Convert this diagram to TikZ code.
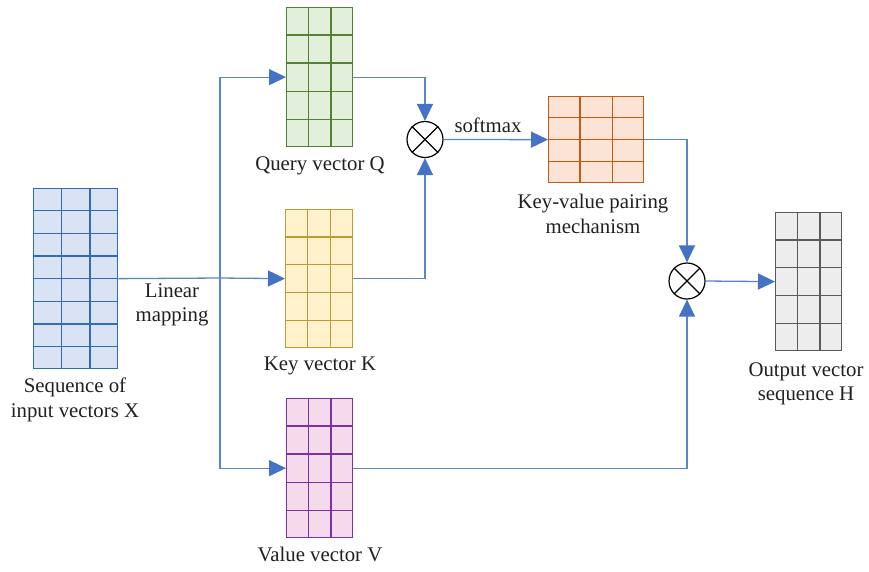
\documentclass[tikz,border=0pt]{standalone}
\usepackage{fontspec}
\setmainfont{Liberation Serif}
\usetikzlibrary{calc,arrows.meta}
\definecolor{linec}{HTML}{5B86C8}
\definecolor{arrc}{HTML}{4472C4}
\definecolor{txtc}{HTML}{231F20}
\definecolor{xs}{HTML}{2E6DB8}\definecolor{xf}{HTML}{DAE3F3}
\definecolor{qs}{HTML}{548235}\definecolor{qf}{HTML}{E2EFDA}
\definecolor{ks}{HTML}{C09A30}\definecolor{kf}{HTML}{FFF2CC}
\definecolor{vs}{HTML}{7A30A8}\definecolor{vf}{HTML}{F5DAEC}
\definecolor{ps}{HTML}{C55A11}\definecolor{pf}{HTML}{FBE3D5}
\definecolor{hs}{HTML}{5A5A5A}\definecolor{hf}{HTML}{EDEDED}
\tikzset{
  conn/.style={draw=linec, line width=1.3pt},
  arr/.style={conn, -{Triangle[length=17pt,width=16pt,fill=arrc,color=arrc]}},
  mult/.style={circle, draw=black, fill=white, line width=1.2pt, minimum size=36pt, inner sep=0pt},
  lbl/.style={text=txtc, font=\fontsize{20.8}{24.5}\selectfont, align=center, inner sep=0pt},
}
% \gridbox{name}{xleft}{ytop}{xright}{ybottom}{cols}{rows}{stroke}{fill}
\newcommand{\gridbox}[9]{%
  \node[draw=#8, fill=#9, line width=1.3pt, inner sep=0pt, anchor=north west,
        minimum width=#4pt-#2pt, minimum height=#5pt-#3pt] (#1) at (#2,-#3) {};
  \pgfmathtruncatemacro{\gcols}{#6-1}
  \pgfmathtruncatemacro{\grows}{#7-1}
  \foreach \i in {1,...,\gcols}{
    \draw[#8, line width=1.3pt] ($(#1.north west)!\i/#6!(#1.north east)$) -- ($(#1.south west)!\i/#6!(#1.south east)$);
  }
  \foreach \j in {1,...,\grows}{
    \draw[#8, line width=1.3pt] ($(#1.north west)!\j/#7!(#1.south west)$) -- ($(#1.north east)!\j/#7!(#1.south east)$);
  }
}
\begin{document}
\begin{tikzpicture}[x=1pt,y=1pt]
\useasboundingbox (0,0) rectangle (869,-571);
% grids
\gridbox{X}{33}{188}{117}{368}{3}{8}{xs}{xf}
\gridbox{Q}{286}{7}{352}{146}{3}{5}{qs}{qf}
\gridbox{K}{285}{209}{352}{347}{3}{5}{ks}{kf}
\gridbox{V}{286}{398}{352}{537}{3}{5}{vs}{vf}
\gridbox{P}{548}{96}{643}{182}{3}{4}{ps}{pf}
\gridbox{H}{775}{212}{841}{350}{3}{5}{hs}{hf}
% multiply circles
\node[mult] (m1) at (425,-139.5) {};
\node[mult] (m2) at (687,-281) {};
\foreach \m in {m1,m2}{
  \draw[black, line width=1.2pt] (\m.north east) -- (\m.south west);
  \draw[black, line width=1.2pt] (\m.north west) -- (\m.south east);
}
% split point
\coordinate (split) at (220,-278);
% connectors
\draw[conn] (X.east) -- (split);
\draw[arr] (split) |- (Q.west);
\draw[arr] (split) -- (K.west);
\draw[arr] (split) |- (V.west);
\draw[arr] (Q.east) -| (m1.north);
\draw[arr] (K.east) -| (m1.south);
\draw[arr] (m1.east) -- (P.west);
\draw[arr] (P.east) -| (m2.north);
\draw[arr] (V.east) -| (m2.south);
\draw[arr] (m2.east) -- (H.west);
% labels
\node[lbl] (lq) at (320,-166) {Query vector Q};
\node[lbl] (lk) at (320,-366) {Key vector K};
\node[lbl] (lv) at (320,-554) {Value vector V};
\node[lbl] (lx) at (75,-400) {Sequence of\\input vectors X};
\node[lbl] (lm) at (172,-305) {Linear\\mapping};
\node[lbl] (ls) at (488,-125) {softmax};
\node[lbl] (lp) at (593,-214) {Key-value pairing\\mechanism};
\node[lbl] (lh) at (806,-384) {Output vector\\sequence H};
\end{tikzpicture}
\end{document}
